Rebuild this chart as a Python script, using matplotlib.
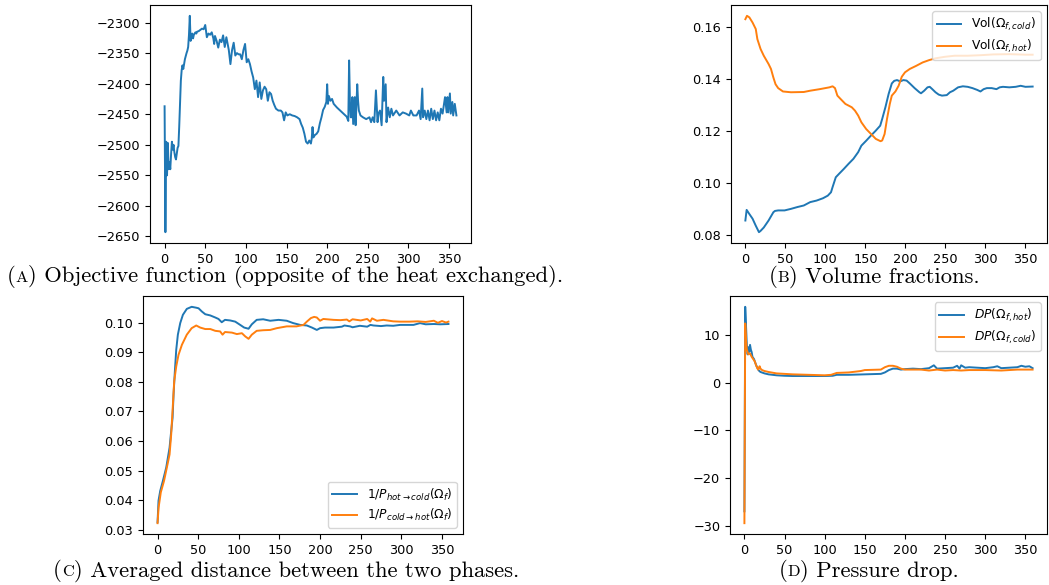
import matplotlib
matplotlib.use("Agg")
import matplotlib.pyplot as plt
from matplotlib.offsetbox import TextArea, HPacker, AnnotationBbox

# --- (A) objective function ---
obj_x = [0, 1, 2, 3, 4, 5, 6, 7, 8, 9, 10, 11, 12, 13, 14, 15, 16, 17, 18, 19,
         20, 21, 22, 23, 24, 25, 26, 27, 28, 29, 30, 31, 32, 33, 34, 35, 36, 37, 38, 39,
         40, 42, 44, 46, 48, 50, 52, 54, 56, 58, 60, 61, 62, 64, 66, 68, 70, 72, 74, 76,
         78, 79, 81, 83, 85, 87, 89, 91, 93, 95, 97, 99, 101, 103, 105, 107, 109, 111, 113, 115,
         117, 119, 121, 123, 125, 127, 129, 131, 133, 135, 137, 140, 143, 145, 147, 149, 151, 154, 157, 160,
         163, 166, 168, 170, 172, 174, 176, 178, 180, 181, 182, 183, 185, 187, 189, 191, 193, 195, 197, 199,
         200, 201, 202, 204, 206, 208, 212, 216, 220, 224, 226, 227, 228, 229, 230, 231, 232, 234, 235, 237,
         238, 239, 241, 244, 248, 252, 254, 256, 258, 260, 262, 263, 265, 267, 269, 270, 272, 273, 275, 277,
         279, 281, 285, 289, 293, 297, 301, 303, 306, 310, 313, 315, 317, 318, 320, 322, 324, 326, 328, 330,
         332, 334, 336, 338, 340, 342, 345, 347, 348, 349, 351, 352, 354, 355, 357, 359]
obj_y = [-2437, -2643, -2495, -2550, -2497, -2540, -2528, -2540, -2515, -2495, -2508, -2500, -2512, -2520, -2524, -2515, -2505, -2502, -2470, -2430,
         -2395, -2378, -2370, -2376, -2368, -2360, -2355, -2350, -2346, -2340, -2320, -2289, -2330, -2322, -2318, -2326, -2320, -2318, -2316, -2318,
         -2315, -2314, -2312, -2310, -2311, -2304, -2324, -2318, -2320, -2316, -2326, -2335, -2322, -2330, -2341, -2328, -2332, -2321, -2340, -2324,
         -2338, -2345, -2368, -2345, -2333, -2354, -2350, -2352, -2352, -2360, -2345, -2335, -2365, -2360, -2368, -2380, -2390, -2409, -2395, -2422,
         -2398, -2425, -2411, -2405, -2409, -2428, -2414, -2417, -2428, -2435, -2441, -2444, -2444, -2447, -2460, -2447, -2452, -2450, -2452, -2453,
         -2455, -2458, -2466, -2472, -2482, -2495, -2498, -2493, -2498, -2490, -2471, -2488, -2484, -2482, -2478, -2465, -2455, -2443, -2438, -2430,
         -2401, -2433, -2420, -2428, -2425, -2433, -2439, -2444, -2449, -2454, -2461, -2362, -2428, -2455, -2455, -2422, -2466, -2422, -2468, -2401,
         -2428, -2444, -2452, -2455, -2458, -2455, -2463, -2455, -2463, -2411, -2463, -2449, -2444, -2468, -2389, -2428, -2401, -2463, -2439, -2455,
         -2441, -2452, -2444, -2452, -2447, -2449, -2452, -2444, -2452, -2452, -2444, -2458, -2408, -2455, -2444, -2458, -2444, -2460, -2441, -2458,
         -2444, -2460, -2447, -2460, -2441, -2449, -2422, -2447, -2422, -2447, -2416, -2449, -2430, -2452, -2433, -2452]

# --- (B) volume fractions ---
cold_x = [0, 1.6, 5, 9, 13, 17, 19, 23, 29, 35, 37, 41, 49, 57, 65, 73, 81, 89, 97, 103,
          107, 109, 113, 117, 123, 129, 135, 141, 145, 151, 157, 163, 168.5, 171, 175, 179, 183, 186, 189.5, 193.5,
          197.5, 201.5, 205.5, 211.5, 217.5, 219.5, 223.5, 227.6, 230.4, 233.6, 237.6, 241.6, 245.7, 251.7, 255.7, 259.8, 265.8, 271.8, 277.8, 283.8,
          289.8, 293.8, 297.8, 301.8, 307.8, 313.8, 317.8, 321.9, 329.9, 337.9, 344, 350, 359]
cold_v = [0.0855, 0.0896, 0.0880, 0.0862, 0.0835, 0.0810, 0.0815, 0.0828, 0.0855, 0.0887, 0.0892, 0.0894, 0.0894, 0.0900, 0.0907, 0.0913, 0.0926, 0.0932, 0.0941, 0.0951,
          0.0964, 0.0984, 0.1022, 0.1035, 0.1054, 0.1074, 0.1093, 0.1119, 0.1144, 0.1163, 0.1183, 0.1202, 0.1221, 0.1247, 0.1292, 0.1343, 0.1384, 0.1394, 0.1397, 0.1392,
          0.1397, 0.1395, 0.1384, 0.1366, 0.1350, 0.1346, 0.1356, 0.1369, 0.1371, 0.1362, 0.1350, 0.1341, 0.1337, 0.1339, 0.1350, 0.1356, 0.1369, 0.1373, 0.1371, 0.1366,
          0.1359, 0.1353, 0.1362, 0.1366, 0.1366, 0.1362, 0.1369, 0.1371, 0.1369, 0.1371, 0.1375, 0.1371, 0.1372]
hot_x = [0, 2, 5, 9, 13, 15, 19, 23, 29, 32, 35, 37.7, 41, 47, 57, 73, 81, 93, 105, 109,
         112, 115, 119, 125, 133, 137, 141, 145, 151, 157, 163, 169, 171, 174, 177, 180.5, 183, 187.5, 191.5, 195.5,
         199.5, 205.5, 213.5, 221.5, 229.6, 237.6, 249.6, 261.7, 277.8, 293.8, 309.8, 329.9, 350, 359]
hot_v = [0.1632, 0.1645, 0.1639, 0.1619, 0.1594, 0.1555, 0.1517, 0.1491, 0.1459, 0.1440, 0.1407, 0.1381, 0.1366, 0.1353, 0.1350, 0.1351, 0.1356, 0.1362, 0.1369, 0.1373,
         0.1366, 0.1337, 0.1324, 0.1305, 0.1292, 0.1279, 0.1260, 0.1234, 0.1208, 0.1189, 0.1170, 0.1161, 0.1164, 0.1189, 0.1247, 0.1305, 0.1337, 0.1353, 0.1375, 0.1410,
         0.1427, 0.1440, 0.1452, 0.1465, 0.1474, 0.1481, 0.1487, 0.1491, 0.1491, 0.1493, 0.1496, 0.1497, 0.1495, 0.1495]

# --- (C) averaged distance ---
dhc_x = [0, 1.2, 3.3, 6.6, 10.7, 14.8, 16.4, 18.5, 19.7, 21.3, 23, 25, 27.9, 31.2, 36, 42, 47.6, 50.5, 54.6, 58.7,
         64.8, 71, 75, 79, 83, 89.4, 95.6, 101.7, 106.6, 112, 116, 122, 130, 138.6, 149, 159, 167, 175.5, 183.7, 190,
         196, 200, 206, 216.6, 226.8, 230, 237, 240, 249, 258, 262, 265.8, 275, 282, 290, 298.6, 315, 323, 330, 340,
         348, 358]
dhc_v = [0.0326, 0.0399, 0.0432, 0.0466, 0.0511, 0.0578, 0.0623, 0.0679, 0.0757, 0.0835, 0.0908, 0.0959, 0.0998, 0.1026, 0.1046, 0.1053, 0.1050, 0.1048, 0.1037, 0.1028,
         0.1024, 0.1017, 0.1012, 0.1001, 0.1009, 0.1007, 0.1003, 0.0992, 0.0983, 0.0979, 0.0994, 0.1009, 0.1011, 0.1006, 0.1009, 0.1006, 0.0998, 0.0992, 0.0990, 0.0983,
         0.0975, 0.0981, 0.0983, 0.0983, 0.0986, 0.0990, 0.0987, 0.0984, 0.0989, 0.0986, 0.0992, 0.0990, 0.0988, 0.0990, 0.0989, 0.0992, 0.0992, 0.0998, 0.0994, 0.0995,
         0.0994, 0.0995]
dch_x = [0, 1.3, 4, 8, 12.3, 14.8, 16.8, 18.9, 20.5, 23, 25.8, 30, 36, 42, 47.6, 52.5, 58.7, 65, 71, 77,
         80, 83, 91.5, 97.6, 103.8, 108, 112, 116, 122, 130, 138.6, 146.8, 159, 171, 179.6, 183.7, 188.7, 192.7, 196, 200,
         204, 216.6, 225, 233, 236, 240, 250, 258, 261.7, 264, 270, 278, 290, 298.6, 310, 320, 330, 340, 345, 350,
         355, 358]
dch_v = [0.0323, 0.0376, 0.0427, 0.0466, 0.0522, 0.0555, 0.0623, 0.0723, 0.0802, 0.0852, 0.0891, 0.0925, 0.0959, 0.0981, 0.0990, 0.0983, 0.0978, 0.0978, 0.0972, 0.0970,
         0.0959, 0.0968, 0.0966, 0.0961, 0.0964, 0.0953, 0.0945, 0.0959, 0.0972, 0.0974, 0.0975, 0.0981, 0.0987, 0.0987, 0.0992, 0.1003, 0.1015, 0.1019, 0.1017, 0.1006,
         0.1012, 0.1009, 0.1008, 0.1010, 0.1004, 0.1011, 0.1007, 0.1012, 0.1003, 0.1014, 0.1006, 0.1009, 0.1004, 0.1003, 0.1003, 0.1004, 0.1002, 0.1006, 0.0999, 0.1005,
         0.1000, 0.1003]

# --- (D) pressure drop ---
dph_x = [0, 1, 2, 3, 4, 5, 6, 7, 8, 9, 10, 12, 14, 16, 18, 20, 25, 30, 40, 50,
         60, 80, 100, 110, 115, 130, 150, 170, 175, 180, 185, 190, 195, 200, 210, 220, 230, 236, 240, 250,
         260, 265, 268, 270, 275, 280, 290, 300, 310, 315, 320, 330, 340, 345, 350, 355, 359]
dph_v = [-27, 16, 12, 8, 6, 7.5, 6.5, 8, 7, 6.5, 5.5, 5, 4, 3.2, 2.6, 2.3, 2.0, 1.8, 1.6, 1.5,
         1.45, 1.45, 1.45, 1.5, 1.7, 1.7, 1.8, 1.9, 2.2, 2.7, 3.0, 3.0, 2.8, 2.9, 3.0, 2.9, 3.1, 3.7, 3.0, 3.1,
         3.2, 3.6, 3.0, 3.7, 3.2, 3.3, 3.2, 3.1, 3.3, 3.5, 3.1, 3.2, 3.3, 3.6, 3.4, 3.5, 3.1]
dpc_x = [0, 1, 2, 3, 4, 5, 7, 9, 11, 13, 15, 17, 18, 19, 20, 22, 25, 30, 40, 50,
         60, 80, 100, 108, 115, 130, 145, 150, 170, 175, 180, 185, 190, 195, 200, 220, 230, 240, 250, 260,
         270, 280, 300, 320, 340, 359]
dpc_v = [-29.5, 12.5, 9, 7, 6.5, 6, 6.2, 5.5, 5, 4.5, 3.5, 2.8, 3.2, 3.5, 3.0, 2.7, 2.5, 2.3, 2.0, 1.9,
         1.8, 1.7, 1.6, 1.7, 2.1, 2.2, 2.5, 2.7, 2.8, 3.3, 3.6, 3.6, 3.4, 3.0, 2.8, 2.8, 2.6, 2.8, 2.6, 2.7,
         2.6, 2.7, 2.7, 2.6, 2.8, 2.8]

W, H = 1049, 585
fig = plt.figure(figsize=(W / 100, H / 100), dpi=100)


def px_axes(left, top, right, bottom):
    return fig.add_axes([left / W, 1 - bottom / H, (right - left) / W, (bottom - top) / H])


lw = 1.4
ax_a = px_axes(150, 5, 471, 243)
ax_a.plot(obj_x, obj_y, color="#1f77b4", lw=lw)

ax_b = px_axes(731, 5, 1047, 243)
ax_b.plot(cold_x, cold_v, color="#1f77b4", lw=lw, label=r"Vol($\Omega_{f,cold}$)")
ax_b.plot(hot_x, hot_v, color="#ff7f0e", lw=lw, label=r"Vol($\Omega_{f,hot}$)")
ax_b.legend(loc="upper right", fontsize=8.8, labelspacing=0.35)

ax_c = px_axes(143, 296, 463, 534)
ax_c.plot(dhc_x, dhc_v, color="#1f77b4", lw=lw, label=r"$1/P_{hot\rightarrow cold}(\Omega_f)$")
ax_c.plot(dch_x, dch_v, color="#ff7f0e", lw=lw, label=r"$1/P_{cold\rightarrow hot}(\Omega_f)$")
ax_c.legend(loc="lower right", fontsize=8.8, labelspacing=0.35)

ax_d = px_axes(730, 296, 1047, 534)
ax_d.plot(dph_x, dph_v, color="#1f77b4", lw=lw, label=r"$DP(\Omega_{f,hot})$")
ax_d.plot(dpc_x, dpc_v, color="#ff7f0e", lw=lw, label=r"$DP(\Omega_{f,cold})$")
ax_d.legend(loc="upper right", fontsize=8.8, labelspacing=0.35)

for ax in (ax_a, ax_b, ax_c, ax_d):
    ax.tick_params(labelsize=9.3)
    ax.set_xticks([0, 50, 100, 150, 200, 250, 300, 350])

ax_b.set_yticks([0.08, 0.10, 0.12, 0.14, 0.16])


def caption(letter, rest, cx, cy):
    # small-caps style label "(A)" followed by the caption text
    parts = [TextArea("(", textprops=dict(family="cmr10", size=16.3)),
             TextArea(letter, textprops=dict(family="cmr10", size=11.8)),
             TextArea(") " + rest, textprops=dict(family="cmr10", size=16.3))]
    box = HPacker(children=parts, align="baseline", pad=0, sep=0)
    ab = AnnotationBbox(box, (cx, H - cy), xycoords="figure pixels",
                        box_alignment=(0.5, 0.5), frameon=False)
    fig.add_artist(ab)


caption("A", "Objective function (opposite of the heat exchanged).", 285, 277)
caption("B", "Volume fractions.", 874, 277)
caption("C", "Averaged distance between the two phases.", 286, 571)
caption("D", "Pressure drop.", 869, 571)

fig.savefig("out.png", dpi=100)
